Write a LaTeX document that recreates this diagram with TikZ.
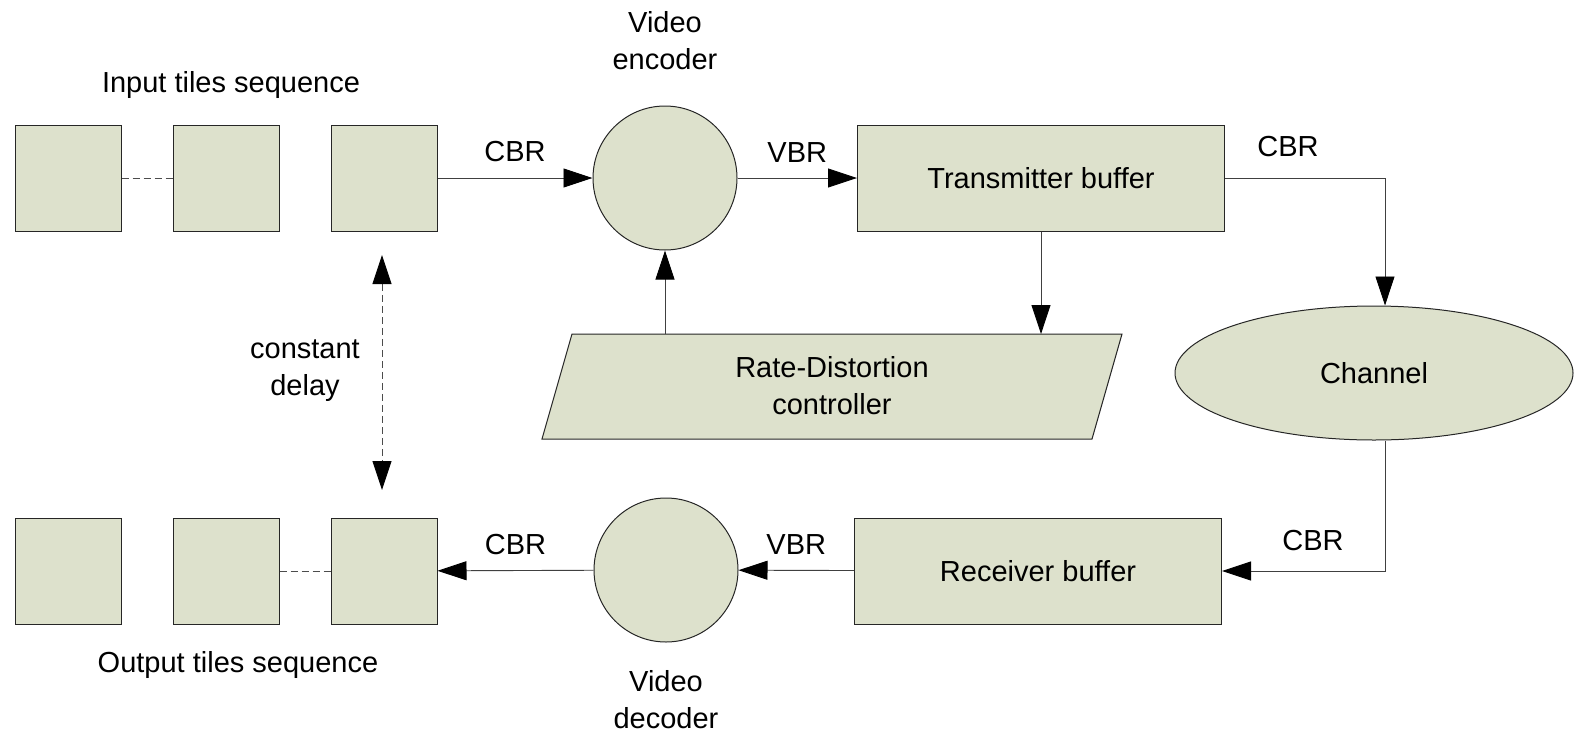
\documentclass[tikz,border=0pt]{standalone}
\usepackage{fontspec}
\setmainfont{Liberation Sans}
\usetikzlibrary{arrows.meta,shapes.geometric}
\definecolor{boxfill}{RGB}{221,225,204}
\tikzset{
  bigtip/.tip={Triangle[length=29pt,width=19pt,color=black]},
  blk/.style={draw=black!85, fill=boxfill, line width=1pt, inner sep=0pt},
  tile/.style={blk, minimum width=106pt, minimum height=106pt},
  buffer/.style={blk, minimum width=367pt, minimum height=106pt},
  flow/.style={-bigtip, line width=0.9pt, draw=black!75},
  gap/.style={dash pattern=on 7pt off 4pt, line width=0.9pt, draw=black!70},
  txt/.style={align=center, font=\fontsize{29}{37}\selectfont}
}
\begin{document}
\begin{tikzpicture}[x=1pt,y=-1pt]
\useasboundingbox (0,0) rectangle (1574,734);

% input side
\node[txt] (inlbl) at (231,85) {Input tiles sequence};
\node[tile] (in1) at (68,178) {};
\node[tile] (in2) at (226,178) {};
\node[tile] (in3) at (384,178) {};
\draw[gap] (in1) -- (in2);

% encoder and transmitter
\node[blk, circle, minimum size=144pt] (enc) at (665,178) {};
\node[txt] (enclbl) at (665,41) {Video\\encoder};
\node[buffer, txt] (tx) at (1041,178) {Transmitter buffer};
\draw[blk] (572,334) coordinate (ctrltop) -- (1122,334) -- (1092,439) -- (542,439) -- cycle;
\node[txt] (ctrl) at (832,386) {Rate-Distortion\\controller};
\node[blk, txt, ellipse, minimum width=398pt, minimum height=134pt] (chan) at (1374,373) {Channel};

% receiver and decoder
\node[buffer, txt] (rx) at (1038,571) {Receiver buffer};
\node[blk, circle, minimum size=144pt] (dec) at (666,570) {};
\node[txt] (declbl) at (666,700) {Video\\decoder};

% output side
\node[tile] (out1) at (68,571) {};
\node[tile] (out2) at (226,571) {};
\node[tile] (out3) at (384,571) {};
\draw[gap] (out2) -- (out3);
\node[txt] (outlbl) at (238,665) {Output tiles sequence};

% connections
\draw[flow] (in3) -- node[txt, above=12pt] (cbr1) {CBR} (enc);
\draw[flow] (enc) -- node[txt, above=12pt] (vbr1) {VBR} (tx);
\draw[flow] (tx.east) -| ([xshift=11pt]chan.north);
\node[txt] (cbr2) at (1288,147) {CBR};
\draw[flow] (tx.south) -- (tx.south |- ctrltop);
\draw[flow] (enc |- ctrltop) -- (enc.south);
\draw[flow] ([xshift=11pt]chan.south) |- (rx.east);
\node[txt] (cbr3) at (1313,541) {CBR};
\draw[flow] (rx) -- node[txt, above=12pt] (vbr2) {VBR} (dec);
\draw[flow] (dec) -- node[txt, above=12pt] (cbr4) {CBR} (out3);

% constant delay
\coordinate (dtop) at (382,255);
\coordinate (dbot) at (382,490);
\draw[gap, bigtip-bigtip] (dtop) -- (dbot);
\node[txt] (delay) at (305,371) {constant\\delay};
\end{tikzpicture}
\end{document}
